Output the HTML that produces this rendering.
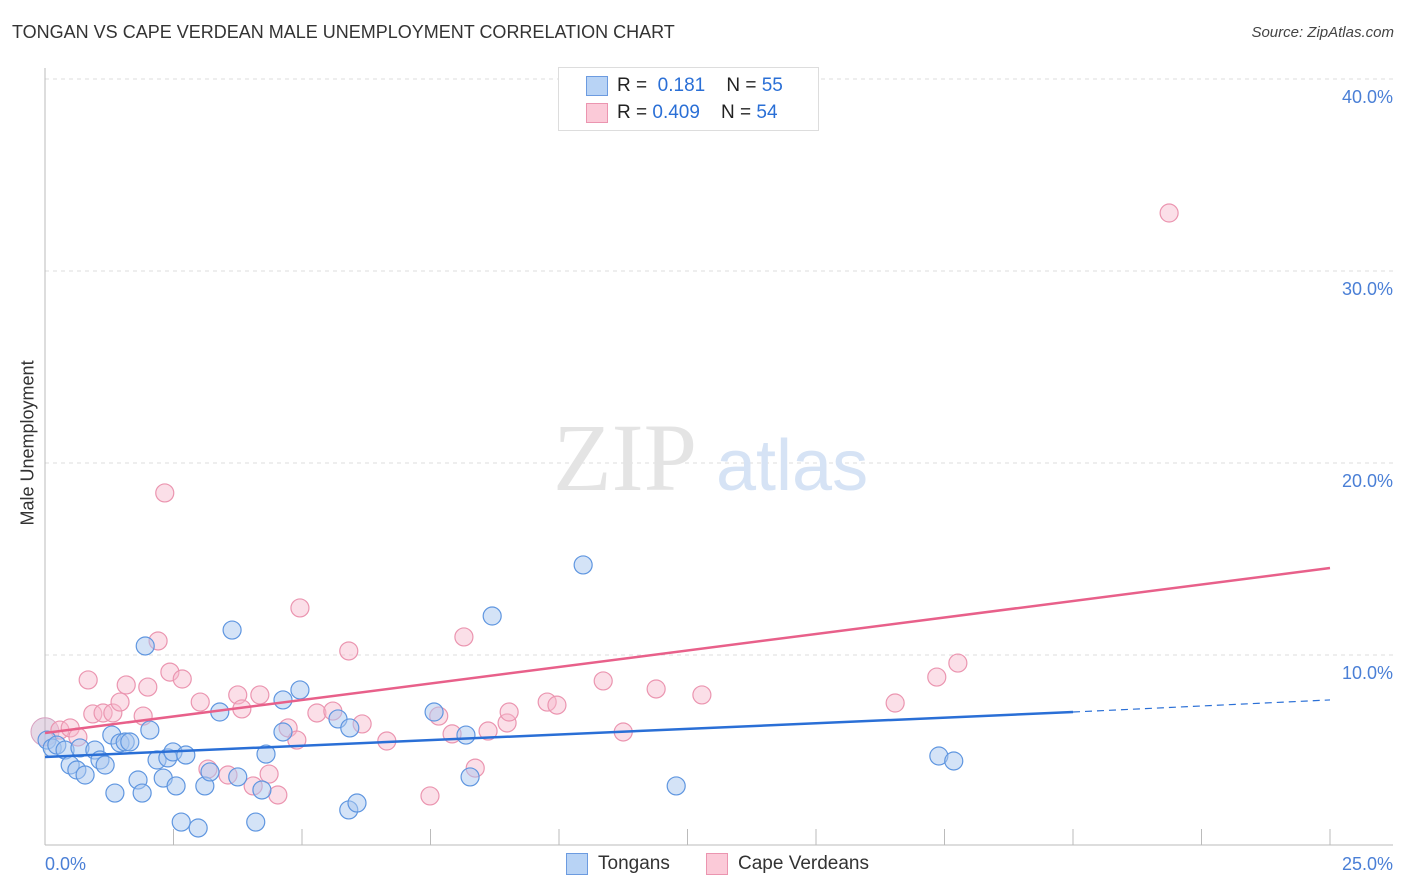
<!DOCTYPE html>
<html><head><meta charset="utf-8"><style>
body{margin:0;background:#fff;font-family:"Liberation Sans",sans-serif;}
#wrap{position:relative;width:1406px;height:892px;overflow:hidden;}
.t{position:absolute;white-space:nowrap;}
</style></head><body>
<div id="wrap">
<div class="t" style="left:12px;top:22px;font-size:18px;color:#333;">TONGAN VS CAPE VERDEAN MALE UNEMPLOYMENT CORRELATION CHART</div>
<div class="t" style="right:12px;top:24px;font-size:15px;color:#444;font-style:italic;">Source: ZipAtlas.com</div>
<div class="t" style="left:-42px;top:445px;font-size:18px;color:#333;transform:rotate(-90deg);transform-origin:center;width:140px;text-align:center;">Male Unemployment</div>
<svg id="svg" width="1406" height="892" style="position:absolute;left:0;top:0"></svg>
</div>
<script>
const xTicks=[0,25];
const yTicks=[10,20,30,40];
const tonganX=[0.04,0.14,0.23,0.39,0.49,0.62,0.78,0.68,0.97,1.07,1.17,1.30,1.36,1.46,1.56,1.65,1.81,1.89,2.04,1.95,2.18,2.30,2.39,2.49,2.55,2.65,2.74,2.98,3.11,3.21,3.40,3.64,3.75,4.10,4.22,4.30,4.63,4.63,4.96,5.70,5.93,5.91,6.07,7.57,8.19,8.27,8.70,10.47,12.28,17.39,17.68];
const tonganY=[5.57,5.16,5.31,5.05,4.27,4.01,3.75,5.16,5.05,4.53,4.27,5.83,2.81,5.42,5.47,5.47,3.49,2.81,6.09,10.47,4.53,3.59,4.64,4.95,3.18,1.30,4.79,0.99,3.18,3.91,7.03,11.30,3.65,1.30,2.97,4.84,7.66,5.99,8.18,6.67,6.20,1.93,2.29,7.03,5.83,3.65,12.03,14.69,3.18,4.74,4.48];
const capeX=[0.29,0.49,0.64,0.84,0.93,1.13,1.32,1.46,1.58,1.91,2.0,2.2,2.33,2.43,2.67,3.02,3.17,3.56,3.75,3.83,4.05,4.18,4.36,4.53,4.73,4.90,4.96,5.29,5.60,5.91,6.17,6.65,7.49,7.66,7.92,8.15,8.37,8.62,8.99,9.03,9.77,9.96,10.86,11.25,11.89,12.78,16.54,17.35,17.76,21.87];
const capeY=[6.09,6.2,5.73,8.7,6.93,6.98,6.98,7.55,8.44,6.82,8.33,10.73,18.44,9.11,8.75,7.55,4.06,3.75,7.92,7.19,3.18,7.92,3.8,2.71,6.2,5.57,12.45,6.98,7.08,10.21,6.41,5.52,2.66,6.82,5.89,10.94,4.11,6.04,6.46,7.03,7.55,7.39,8.65,5.99,8.23,7.92,7.50,8.85,9.58,33.02];
const tonganTrend=[4.69,7.03,7.66]; // at x=0,20,25
const capeTrend=[5.94,14.53]; // at x=0,25
const X=v=>45+v/25*1285, Y=v=>847-v*19.2;
const svg=document.getElementById('svg');
function mk(tag,attrs){const e=document.createElementNS('http://www.w3.org/2000/svg',tag);for(const k in attrs)e.setAttribute(k,attrs[k]);svg.appendChild(e);return e;}
yTicks.forEach(v=>{
 const g=mk('line',{x1:45,x2:1393,y1:Y(v),y2:Y(v),stroke:'#ddd','stroke-dasharray':'4,4'});
 
 
 const t=mk('text',{x:1393,y:Y(v)+24,'text-anchor':'end','font-size':18,fill:'#4a7fd6','font-family':'Liberation Sans'});t.textContent=v.toFixed(1)+'%';
 
 
});
const ax=mk('line',{x1:45,x2:45,y1:68,y2:845,stroke:'#bbb'});


const bx=mk('line',{x1:45,x2:1393,y1:845,y2:845,stroke:'#bbb'});


for(let i=1;i<=10;i++){const tk=mk('line',{x1:X(i*2.5),x2:X(i*2.5),y1:829,y2:845,stroke:'#bbb'});
 
 }
xTicks.forEach((v,i)=>{const t=mk('text',{x:i?1393:45,y:870,'text-anchor':i?'end':'start','font-size':18,fill:'#4a7fd6','font-family':'Liberation Sans'});t.textContent=v.toFixed(1)+'%';
 
 });
const w1=mk('text',{x:553,y:490,'font-size':96,fill:'#e4e4e4','font-family':'Liberation Serif'});w1.textContent='ZIP';


const w2=mk('text',{x:716,y:490,'font-size':72,fill:'#d6e3f5','font-family':'Liberation Sans'});w2.textContent='atlas';


const big=mk('circle',{cx:X(0),cy:Y(6),r:14,fill:'rgba(200,170,200,0.45)',stroke:'#d8a0c0'});


capeX.forEach((x,i)=>{const c=mk('circle',{cx:X(x),cy:Y(capeY[i]),r:9,fill:'rgba(247,184,203,0.45)',stroke:'#eb95b0','stroke-width':1.2});
 
 });
tonganX.forEach((x,i)=>{const c=mk('circle',{cx:X(x),cy:Y(tonganY[i]),r:9,fill:'rgba(169,200,240,0.5)',stroke:'#5f96e0','stroke-width':1.2});
 
 });
const l1=mk('line',{x1:X(0),y1:Y(tonganTrend[0]),x2:X(20),y2:Y(tonganTrend[1]),stroke:'#2a6fd6','stroke-width':2.5});


const l2=mk('line',{x1:X(20),y1:Y(tonganTrend[1]),x2:X(25),y2:Y(tonganTrend[2]),stroke:'#2a6fd6','stroke-width':1.2,'stroke-dasharray':'7,5'});


const l3=mk('line',{x1:X(0),y1:Y(capeTrend[0]),x2:X(25),y2:Y(capeTrend[1]),stroke:'#e8608a','stroke-width':2.5});


</script>
<div class="t" style="left:558px;top:67px;width:259px;height:62px;border:1px solid #ddd;background:#fff;">
 <div style="position:absolute;left:27px;top:8px;width:20px;height:18px;background:#b8d3f5;border:1px solid #6c9be0;"></div>
 <div class="t" style="left:58px;top:7px;font-size:19px;color:#222;">R = &nbsp;<span style="color:#2a6fd6">0.181</span>&nbsp;&nbsp;&nbsp; N = <span style="color:#2a6fd6">55</span></div>
 <div style="position:absolute;left:27px;top:35px;width:20px;height:18px;background:#fbcad8;border:1px solid #eb95b0;"></div>
 <div class="t" style="left:58px;top:34px;font-size:19px;color:#222;">R = <span style="color:#2a6fd6">0.409</span>&nbsp;&nbsp;&nbsp; N = <span style="color:#2a6fd6">54</span></div>
</div>
<div style="position:absolute;left:566px;top:853px;width:20px;height:20px;background:#b8d3f5;border:1px solid #6c9be0;"></div>
<div class="t" style="left:598px;top:853px;font-size:19px;color:#333;">Tongans</div>
<div style="position:absolute;left:706px;top:853px;width:20px;height:20px;background:#fbcad8;border:1px solid #eb95b0;"></div>
<div class="t" style="left:738px;top:853px;font-size:19px;color:#333;">Cape Verdeans</div>
</body></html>
